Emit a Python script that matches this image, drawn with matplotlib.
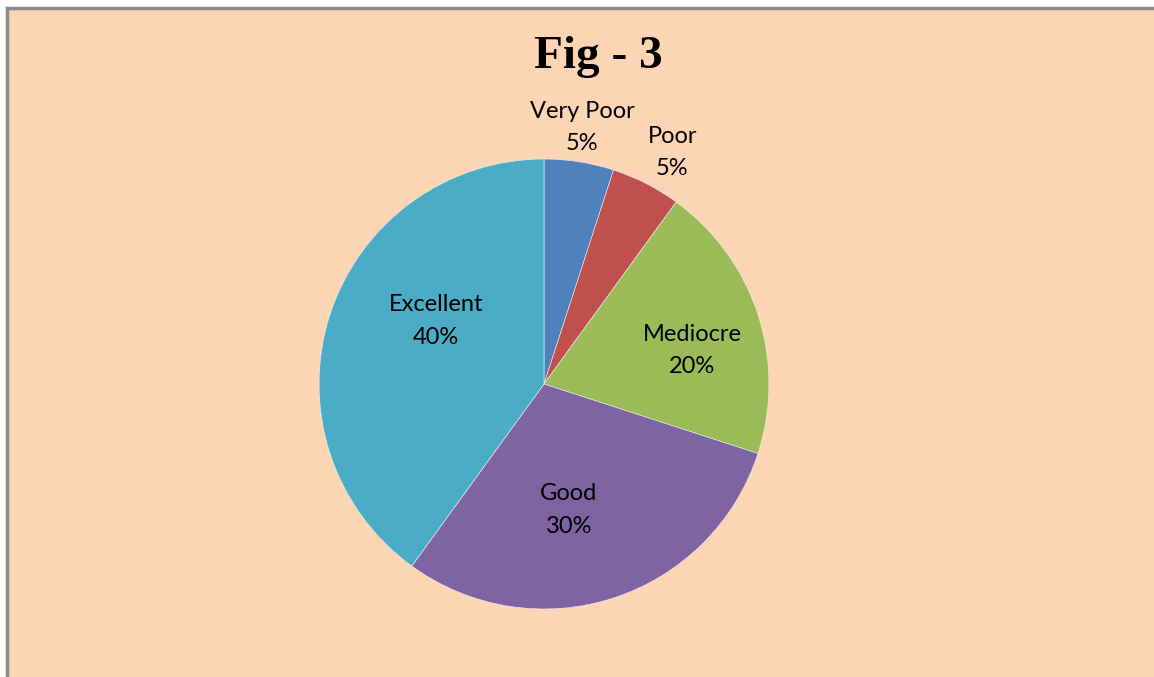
import matplotlib
matplotlib.use('Agg')
import matplotlib.pyplot as plt

categories = ['Very Poor', 'Poor', 'Mediocre', 'Good', 'Excellent']
shares = [5, 5, 20, 30, 40]
colors = ['#4F81BD', '#C0504D', '#9BBB59', '#8064A2', '#4BACC6']

# label positions in units of the pie radius
label_x = [0.17, 0.57, 0.66, 0.11, -0.48]
label_y = [1.14, 1.03, 0.15, -0.56, 0.28]

BG = '#FCD5B5'

fig = plt.figure(figsize=(11.54, 6.77), dpi=100)
fig.patch.set_facecolor('white')

# background panel with gray border on top and left
bg = fig.add_axes([7 / 1154, -0.01, 1.01 - 7 / 1154, 1.01 - 8 / 677])
bg.set_facecolor(BG)
bg.set_xticks([])
bg.set_yticks([])
for side in ['right', 'bottom']:
    bg.spines[side].set_visible(False)
for side in ['top', 'left']:
    bg.spines[side].set_color('#8C8C8C')
    bg.spines[side].set_linewidth(2.5)

ax = fig.add_axes([319 / 1154, 1 - 609 / 677, 450 / 1154, 450 / 677])
ax.set_facecolor('none')
ax.pie(shares, colors=colors, startangle=90, counterclock=False, radius=1,
       wedgeprops=dict(edgecolor='#F2F2F2', linewidth=0.4))
ax.set_xlim(-1, 1)
ax.set_ylim(-1, 1)
ax.set_aspect('equal')
ax.axis('off')

for name, val, x, y in zip(categories, shares, label_x, label_y):
    ax.text(x, y, f'{name}\n{val}%', ha='center', va='center',
            fontsize=17, family='Lato', linespacing=1.66, color='black')

fig.text(598 / 1154, 1 - 57 / 677, 'Fig - 3', ha='center', va='center',
         fontsize=34, fontweight='bold', family='Liberation Serif')

fig.savefig('out.png', dpi=100, facecolor=fig.get_facecolor())
